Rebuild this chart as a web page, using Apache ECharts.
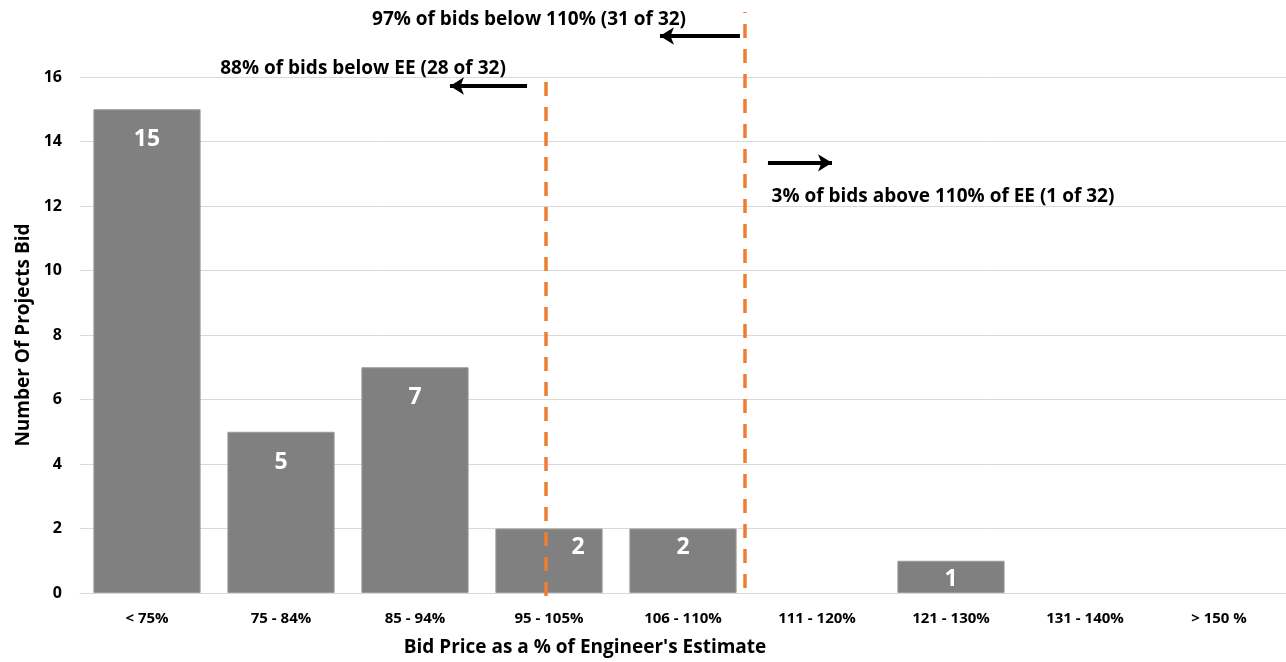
<!DOCTYPE html>
<html>
<head>
<meta charset="utf-8">
<script src="https://cdn.jsdelivr.net/npm/echarts@6/dist/echarts.min.js"></script>
<style>html,body{margin:0;padding:0;background:#fff}#chart{width:1286px;height:662px}</style>
</head>
<body>
<div id="chart"></div>
<script>
// Distribution of bids relative to the engineer's estimate
const categories = ['< 75%', '75 - 84%', '85 - 94%', '95 - 105%', '106 - 110%', '111 - 120%', '121 - 130%', '131 - 140%', '> 150 %'];
const projectCounts = [15, 5, 7, 2, 2, null, 1, null, null];
const yTicks = [0, 2, 4, 6, 8, 10, 12, 14, 16];

// Overlay layer: x runs 0..9 across the nine bins, y uses the same unit as the counts
const eeLine = [[3.478, 0], [3.478, 16]];
const limitLine = [[4.963, 0.25], [4.963, 18]];
// Arrows: [from, to]
const arrows = [
  [[3.336, 15.72], [2.761, 15.72]],
  [[4.925, 17.26], [4.328, 17.26]],
  [[5.134, 13.35], [5.612, 13.35]]
];
const notes = [
  { text: '88% of bids below EE (28 of 32)', at: [2.112, 16.25] },
  { text: '97% of bids below 110% (31 of 32)', at: [3.351, 17.76] },
  { text: '3% of bids above 110% of EE (1 of 32)', at: [6.44, 12.31] }
];

const FONT = 'Open Sans';
const orange = '#ED7D31';

const barData = projectCounts.map((v, i) => {
  if (v == null) return v;
  const item = { value: v, label: { distance: v > 2 ? 19 : 7 } };
  if (i === 3) item.label.offset = [29, 0];
  return item;
});

const dashed = { color: orange, width: 3.5, type: [14, 11] };
const arrowStyle = { color: '#000', width: 4, type: 'solid' };

const chart = echarts.init(document.getElementById('chart'));
chart.setOption({
  animation: false,
  textStyle: { fontFamily: FONT },
  grid: [
    { left: 80, right: 0, top: 77, bottom: 66 },
    { left: 80, right: 0, top: 12, bottom: 66 }
  ],
  xAxis: [{
    type: 'category',
    gridIndex: 0,
    data: categories,
    axisTick: { show: false },
    axisLine: { lineStyle: { color: '#d9d9d9' } },
    axisLabel: { color: '#000', fontWeight: 'bold', fontSize: 15, margin: 18, fontFamily: FONT },
    name: "Bid Price as a % of Engineer's Estimate",
    nameLocation: 'middle',
    nameGap: 45,
    nameTextStyle: { color: '#000', fontWeight: 'bold', fontSize: 19, fontFamily: FONT, padding: [0, 196, 0, 0] }
  }, {
    type: 'value', gridIndex: 1, min: 0, max: 9, show: false
  }],
  yAxis: [{
    type: 'value', gridIndex: 0, min: yTicks[0], max: yTicks[yTicks.length - 1], interval: 2,
    axisLine: { show: false },
    axisTick: { show: false },
    splitLine: { lineStyle: { color: '#d9d9d9', width: 1 } },
    axisLabel: { color: '#000', fontWeight: 'bold', fontSize: 16, margin: 18, fontFamily: FONT },
    name: 'Number Of Projects Bid',
    nameLocation: 'middle',
    nameGap: 47,
    nameTextStyle: { color: '#000', fontWeight: 'bold', fontSize: 19, fontFamily: FONT }
  }, {
    type: 'value', gridIndex: 1, min: 0, max: 18, show: false
  }],
  series: [{
    type: 'bar',
    data: barData,
    barCategoryGap: '20%',
    itemStyle: { color: '#808080', borderColor: '#9a9a9a', borderWidth: 1 },
    label: {
      show: true, position: 'insideTop', color: '#fff',
      fontWeight: 'bold', fontSize: 23, fontFamily: FONT
    }
  }, {
    type: 'line',
    xAxisIndex: 1,
    yAxisIndex: 1,
    data: [],
    silent: true,
    markLine: {
      silent: true,
      animation: false,
      label: { show: false },
      data: [
        [{ coord: eeLine[0], symbol: 'none', lineStyle: dashed }, { coord: eeLine[1], symbol: 'none' }],
        [{ coord: limitLine[0], symbol: 'none', lineStyle: dashed }, { coord: limitLine[1], symbol: 'none' }]
      ].concat(arrows.map(a => [
        { coord: a[0], symbol: 'none', lineStyle: arrowStyle },
        { coord: a[1], symbol: 'arrow', symbolSize: [13, 14] }
      ]))
    },
    markPoint: {
      silent: true,
      symbol: 'rect',
      symbolSize: 1,
      itemStyle: { color: 'rgba(0,0,0,0)' },
      label: { show: true, position: 'inside', color: '#000', fontWeight: 'bold', fontSize: 19, fontFamily: FONT },
      data: notes.map(n => ({ coord: n.at, label: { formatter: n.text } }))
    }
  }]
});
</script>
</body>
</html>
